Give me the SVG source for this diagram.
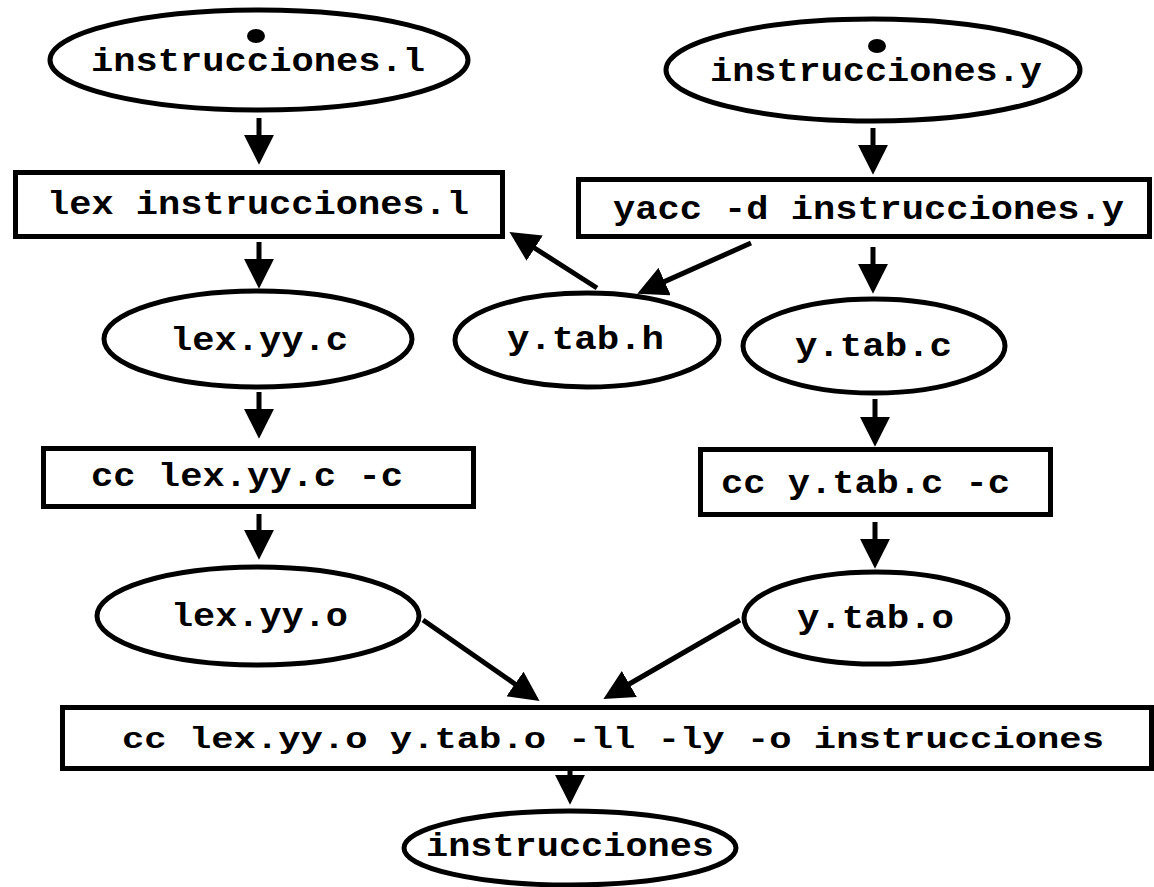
<svg xmlns="http://www.w3.org/2000/svg" width="1154" height="887" viewBox="0 0 1154 887">
<style>
.n{fill:#fff;stroke:#000;stroke-width:5}
.t{font-family:"Liberation Mono","Courier New",monospace;font-weight:bold;font-size:34px;fill:#000}
.tb{font-size:30px}
.c line{stroke:#000;stroke-width:5;marker-end:url(#ah)}
</style>
<defs>
<marker id="ah" markerUnits="userSpaceOnUse" markerWidth="30" markerHeight="30" refX="2" refY="14" orient="auto" viewBox="0 0 28 28">
<path d="M0,0 L28,14 L0,28 z" fill="#000"/>
</marker>
</defs>
<rect width="1154" height="887" fill="#fff"/>
<g id="n_instr_l">
<ellipse class="n" cx="259" cy="60" rx="209" ry="50"/>
<ellipse cx="256" cy="36" rx="9" ry="7" fill="#000"/>
<text class="t" x="91" y="71" textLength="334" lengthAdjust="spacingAndGlyphs">instrucciones.l</text>
</g>
<g id="n_instr_y">
<ellipse class="n" cx="873" cy="70" rx="207" ry="51"/>
<ellipse cx="877" cy="46" rx="9" ry="7" fill="#000"/>
<text class="t" x="710" y="81" textLength="332" lengthAdjust="spacingAndGlyphs">instrucciones.y</text>
</g>
<g id="n_lex_cmd">
<rect class="n" x="15.5" y="172.5" width="487" height="64"/>
<text class="t" x="47" y="214" textLength="422" lengthAdjust="spacingAndGlyphs">lex instrucciones.l</text>
</g>
<g id="n_yacc_cmd">
<rect class="n" x="578.5" y="179.5" width="571" height="57"/>
<text class="t" x="613" y="219" textLength="511" lengthAdjust="spacingAndGlyphs">yacc -d instrucciones.y</text>
</g>
<g id="n_lex_yy_c">
<ellipse class="n" cx="258" cy="339" rx="154" ry="48"/>
<text class="t" x="170" y="350" textLength="178" lengthAdjust="spacingAndGlyphs">lex.yy.c</text>
</g>
<g id="n_y_tab_h">
<ellipse class="n" cx="587" cy="340" rx="132" ry="47"/>
<text class="t" x="507" y="349" textLength="157" lengthAdjust="spacingAndGlyphs">y.tab.h</text>
</g>
<g id="n_y_tab_c">
<ellipse class="n" cx="874" cy="346" rx="131" ry="47"/>
<text class="t" x="795" y="356" textLength="157" lengthAdjust="spacingAndGlyphs">y.tab.c</text>
</g>
<g id="n_cc_lex">
<rect class="n" x="43.5" y="448.5" width="430" height="58"/>
<text class="t" x="91" y="486" textLength="312" lengthAdjust="spacingAndGlyphs">cc lex.yy.c -c</text>
</g>
<g id="n_cc_y">
<rect class="n" x="700.5" y="449.5" width="350" height="65"/>
<text class="t" x="721" y="493" textLength="289" lengthAdjust="spacingAndGlyphs">cc y.tab.c -c</text>
</g>
<g id="n_lex_yy_o">
<ellipse class="n" cx="258" cy="616" rx="161" ry="49"/>
<text class="t" x="171" y="626" textLength="177" lengthAdjust="spacingAndGlyphs">lex.yy.o</text>
</g>
<g id="n_y_tab_o">
<ellipse class="n" cx="876" cy="618" rx="132" ry="46"/>
<text class="t" x="797" y="628" textLength="157" lengthAdjust="spacingAndGlyphs">y.tab.o</text>
</g>
<g id="n_link">
<rect class="n" x="62.5" y="707.5" width="1089" height="61"/>
<text class="t tb" x="122" y="748" textLength="982" lengthAdjust="spacingAndGlyphs">cc lex.yy.o y.tab.o -ll -ly -o instrucciones</text>
</g>
<g id="n_instr">
<ellipse class="n" cx="570" cy="848" rx="166" ry="37"/>
<text class="t" x="426" y="856" textLength="288" lengthAdjust="spacingAndGlyphs">instrucciones</text>
</g>
<g id="connectors" class="c">
<line x1="259" y1="118" x2="259" y2="137"/>
<line x1="259" y1="242" x2="259" y2="261"/>
<line x1="873" y1="128" x2="873" y2="147"/>
<line x1="873" y1="247" x2="873" y2="266"/>
<line x1="597" y1="288" x2="532.9" y2="247"/>
<line x1="751" y1="243" x2="662.7" y2="282.4"/>
<line x1="259" y1="392" x2="259" y2="411"/>
<line x1="259" y1="514" x2="259" y2="532"/>
<line x1="875" y1="399" x2="875" y2="419"/>
<line x1="875" y1="522" x2="875" y2="541"/>
<line x1="423" y1="620" x2="516.7" y2="685.2"/>
<line x1="740" y1="620" x2="627.5" y2="685"/>
<line x1="570" y1="771" x2="570" y2="777"/>
</g>
</svg>
